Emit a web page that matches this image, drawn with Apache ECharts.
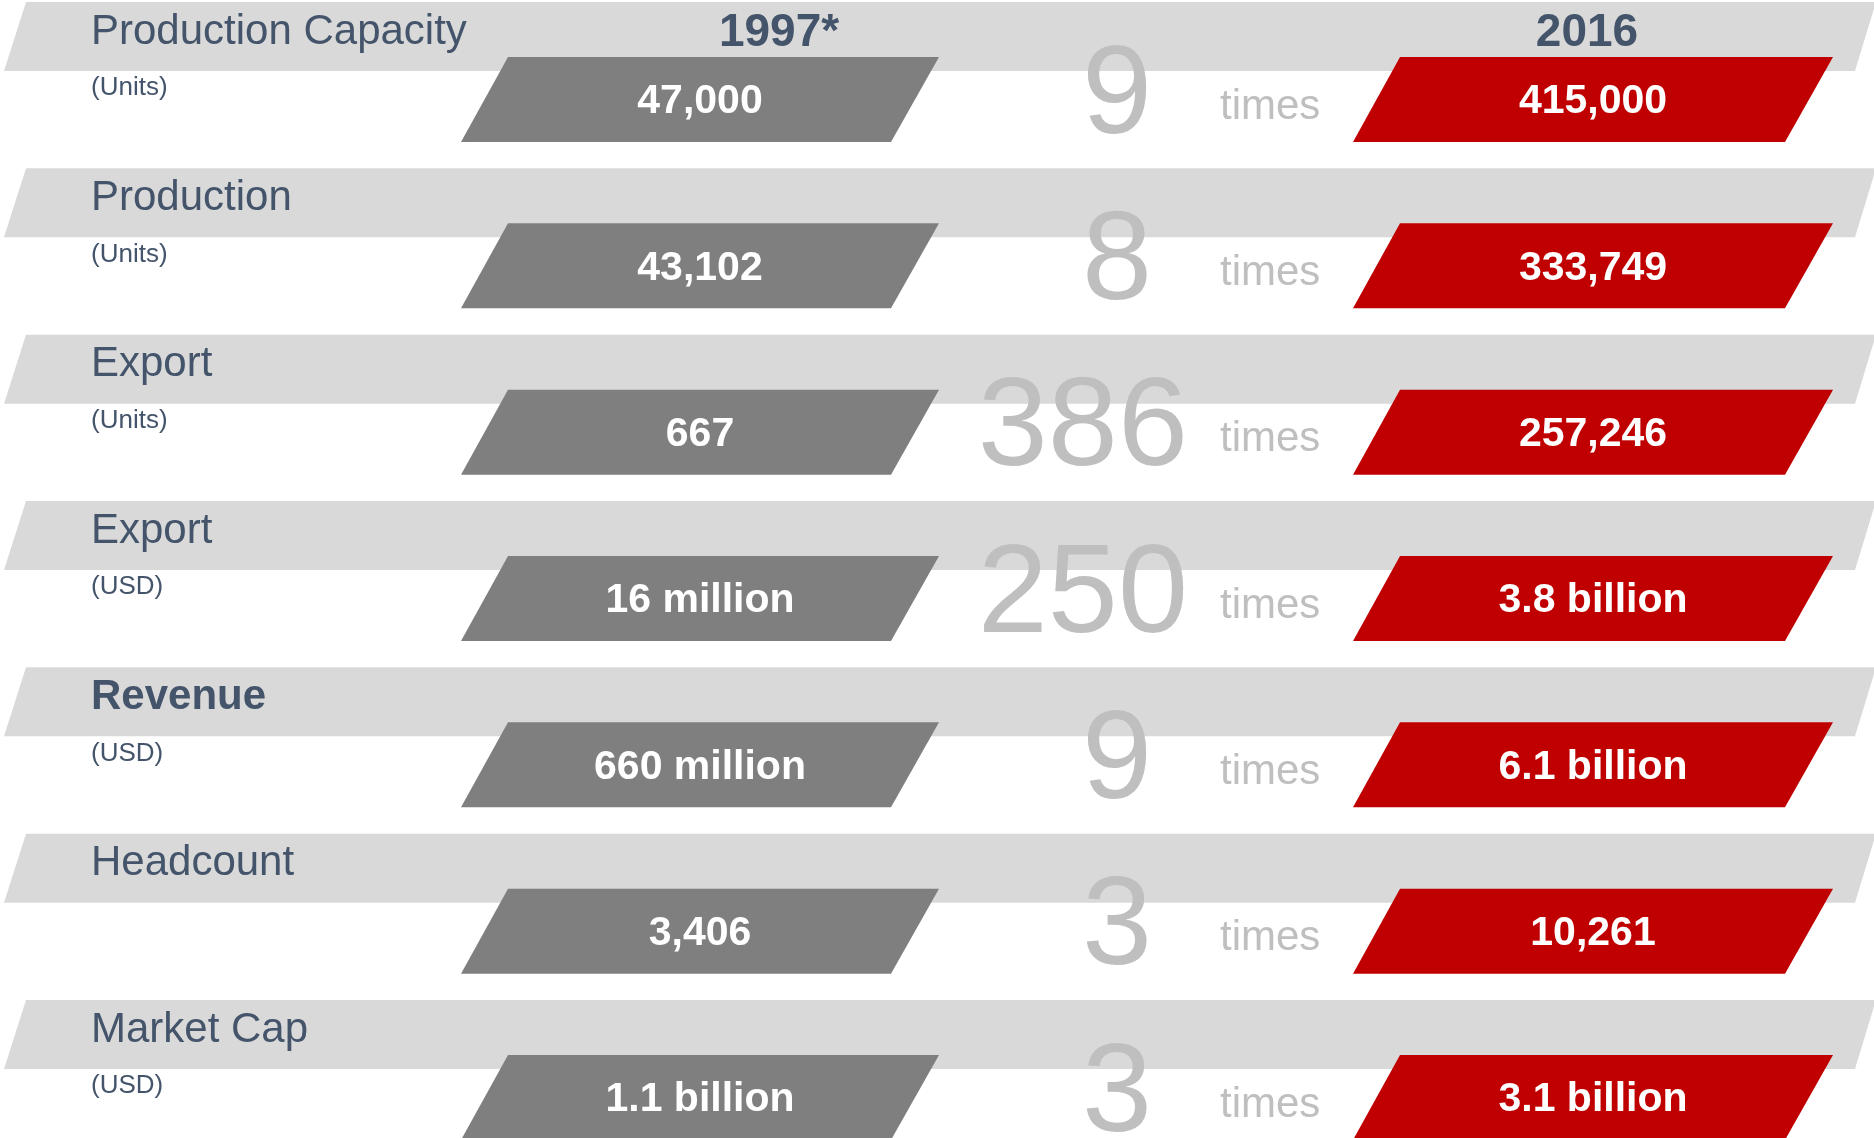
<!DOCTYPE html>
<html>
<head>
<meta charset="utf-8">
<script src="https://cdn.jsdelivr.net/npm/echarts@6/dist/echarts.min.js"></script>
<style>
  html, body { margin: 0; padding: 0; background: #ffffff; }
  #chart { width: 1874px; height: 1138px; }
</style>
</head>
<body>
<div id="chart"></div>
<script>
// ---- data ----
const categories = ['Production Capacity', 'Production', 'Export', 'Export', 'Revenue', 'Headcount', 'Market Cap'];
const units = ['(Units)', '(Units)', '(Units)', '(USD)', '(USD)', '', '(USD)'];
const years = ['1997*', '2016'];
const values1997 = ['47,000', '43,102', '667', '16 million', '660 million', '3,406', '1.1 billion'];
const values2016 = ['415,000', '333,749', '257,246', '3.8 billion', '6.1 billion', '10,261', '3.1 billion'];
const multipliers = ['9', '8', '386', '250', '9', '3', '3'];
const multiplierWord = 'times';

// ---- styles / layout ----
const FONT = '"Liberation Sans", Arial, Helvetica, sans-serif';
const LABEL_COLOR = '#44546a';
const BAND_COLOR = '#d9d9d9';
const OLD_COLOR = '#7f7f7f';
const NEW_COLOR = '#c00000';
const MULT_COLOR = '#bfbfbf';
const BOLD_ROWS = [4];

const chart = echarts.init(document.getElementById('chart'), null, { renderer: 'canvas' });

function renderItem(params, api) {
  const i = api.value(0);
  const px = (x) => api.coord([x, i])[0];
  const anchor = api.coord([0, i])[1];
  const T = anchor - 70; // band top
  const children = [];

  // light band
  children.push({
    type: 'polygon',
    shape: { points: [[px(26), T], [px(1876), T], [px(1855), T + 69], [px(4), T + 69]] },
    style: { fill: BAND_COLOR }
  });
  // 1997 parallelogram
  children.push({
    type: 'polygon',
    shape: { points: [[px(508), T + 55], [px(939), T + 55], [px(891), T + 140], [px(461), T + 140]] },
    style: { fill: OLD_COLOR }
  });
  // 2016 parallelogram
  children.push({
    type: 'polygon',
    shape: { points: [[px(1400), T + 55], [px(1833), T + 55], [px(1785), T + 140], [px(1353), T + 140]] },
    style: { fill: NEW_COLOR }
  });
  // category label
  children.push({
    type: 'text',
    style: {
      text: categories[i], x: px(91), y: T + 30,
      fill: LABEL_COLOR, fontSize: 42, fontFamily: FONT,
      fontWeight: BOLD_ROWS.indexOf(i) >= 0 ? 'bold' : 'normal',
      align: 'left', verticalAlign: 'middle'
    }
  });
  // unit
  if (units[i]) {
    children.push({
      type: 'text',
      style: {
        text: units[i], x: px(91), y: T + 86,
        fill: LABEL_COLOR, fontSize: 26, fontFamily: FONT,
        align: 'left', verticalAlign: 'middle'
      }
    });
  }
  // multiplier
  const m = multipliers[i];
  children.push({
    type: 'text',
    style: {
      text: m, x: m.length > 1 ? px(1188) : px(1117), y: T + 96,
      fill: MULT_COLOR, fontSize: 126, fontFamily: FONT,
      align: m.length > 1 ? 'right' : 'center', verticalAlign: 'middle'
    }
  });
  children.push({
    type: 'text',
    style: {
      text: multiplierWord, x: px(1220), y: T + 105,
      fill: MULT_COLOR, fontSize: 42, fontFamily: FONT,
      align: 'left', verticalAlign: 'middle'
    }
  });
  // values
  children.push({
    type: 'text',
    style: {
      text: values1997[i], x: px(700), y: T + 100,
      fill: '#ffffff', fontSize: 41, fontWeight: 'bold', fontFamily: FONT,
      align: 'center', verticalAlign: 'middle'
    }
  });
  children.push({
    type: 'text',
    style: {
      text: values2016[i], x: px(1593), y: T + 100,
      fill: '#ffffff', fontSize: 41, fontWeight: 'bold', fontFamily: FONT,
      align: 'center', verticalAlign: 'middle'
    }
  });
  // year headers on first row
  if (i === 0) {
    children.push({
      type: 'text',
      style: {
        text: years[0], x: px(779), y: T + 31,
        fill: LABEL_COLOR, fontSize: 46, fontWeight: 'bold', fontFamily: FONT,
        align: 'center', verticalAlign: 'middle'
      }
    });
    children.push({
      type: 'text',
      style: {
        text: years[1], x: px(1587), y: T + 31,
        fill: LABEL_COLOR, fontSize: 46, fontWeight: 'bold', fontFamily: FONT,
        align: 'center', verticalAlign: 'middle'
      }
    });
  }
  return { type: 'group', children: children };
}

chart.setOption({
  animation: false,
  backgroundColor: '#ffffff',
  grid: { left: 0, right: 0, top: 72, bottom: 68 },
  xAxis: { type: 'value', min: 0, max: 1874, show: false },
  yAxis: {
    type: 'category', data: categories.map((c, i) => i), inverse: true,
    boundaryGap: false, show: false
  },
  series: [{
    type: 'custom',
    clip: false,
    renderItem: renderItem,
    encode: { x: 1, y: 0 },
    data: categories.map((c, i) => [i, 0])
  }]
});
</script>
</body>
</html>
